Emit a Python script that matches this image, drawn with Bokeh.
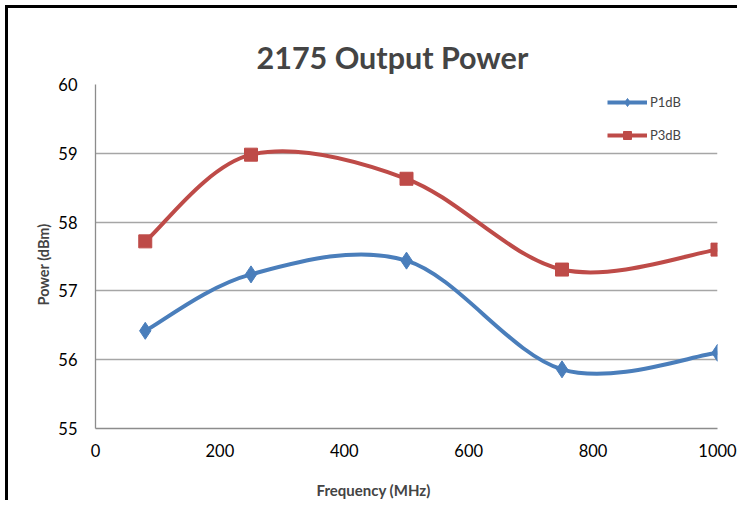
from bokeh.plotting import figure
from bokeh.models import Title, Legend, LegendItem, FixedTicker, Range1d
from bokeh.embed import file_html
from bokeh.resources import INLINE

freq = [80, 250, 500, 750, 1000]
p1db = [56.42, 57.24, 57.44, 55.86, 56.10]
p3db = [57.72, 58.98, 58.63, 57.31, 57.60]
x_ticks = [0, 200, 400, 600, 800, 1000]
y_ticks = [55, 56, 57, 58, 59, 60]

BLUE = "#4a7ebb"
RED = "#be4b48"
FONT = "Lato"


def smooth_segments(xs, ys):
    """Excel-style smoothed line: cubic Bezier control points from neighbours."""
    n = len(xs)
    seg = {k: [] for k in ("x0", "y0", "x1", "y1", "cx0", "cy0", "cx1", "cy1")}
    for i in range(n - 1):
        ip = max(i - 1, 0)
        i2 = min(i + 2, n - 1)
        seg["x0"].append(xs[i]); seg["y0"].append(ys[i])
        seg["x1"].append(xs[i + 1]); seg["y1"].append(ys[i + 1])
        seg["cx0"].append(xs[i] + (xs[i + 1] - xs[ip]) / 6.0)
        seg["cy0"].append(ys[i] + (ys[i + 1] - ys[ip]) / 6.0)
        seg["cx1"].append(xs[i + 1] - (xs[i2] - xs[i]) / 6.0)
        seg["cy1"].append(ys[i + 1] - (ys[i2] - ys[i]) / 6.0)
    return seg


p = figure(width=732, height=495, output_backend="svg", toolbar_location=None,
           x_range=Range1d(0, 1000), y_range=Range1d(55, 60),
           min_border_left=87, min_border_right=23, min_border_top=76, min_border_bottom=75)
p.styles = {"border-left": "3px solid black", "border-top": "3px solid black",
            "margin-left": "5px", "margin-top": "5px"}

p.title.text = "2175 Output Power"
p.title.text_font = FONT
p.title.text_font_size = "30.5px"
p.title.text_font_style = "bold"
p.title.align = "left"
p.title.offset = 161
p.title.standoff = 19

p.outline_line_color = None
p.background_fill_color = "white"
p.border_fill_color = "white"
p.xgrid.grid_line_color = None
p.ygrid.grid_line_color = "#a6a6a6"
p.ygrid.grid_line_width = 1.3

p.xaxis.ticker = FixedTicker(ticks=x_ticks)
p.yaxis.ticker = FixedTicker(ticks=y_ticks)
for ax in (p.xaxis[0], p.yaxis[0]):
    ax.major_tick_line_color = None
    ax.minor_tick_line_color = None
    ax.axis_line_color = "#8c8c8c"
    ax.axis_line_width = 1.3
    ax.major_label_text_font = FONT
    ax.major_label_text_font_size = "16.5px"
    ax.major_label_text_color = "black"
p.xaxis.major_label_standoff = 9
p.yaxis.major_label_standoff = 12
# blank spacer between the x tick labels and the (offset) x-axis title below
p.xaxis.axis_label = " "
p.xaxis.axis_label_text_font_size = "10px"
p.xaxis.axis_label_standoff = 0

ylab = Title(text="Power (dBm)", align="left", offset=123,
             text_font=FONT, text_font_size="14.5px", text_font_style="bold",
             standoff=8)
p.add_layout(ylab, "left")

xlab = Title(text="Frequency (MHz)", align="left", offset=221, vertical_align="bottom",
             text_font=FONT, text_font_size="15px", text_font_style="bold",
             standoff=10)
p.add_layout(xlab, "below")

s1 = smooth_segments(freq, p1db)
s3 = smooth_segments(freq, p3db)

b3 = p.bezier(source=s3, x0="x0", y0="y0", x1="x1", y1="y1", cx0="cx0", cy0="cy0",
              cx1="cx1", cy1="cy1", line_color=RED, line_width=4)
m3 = p.scatter(freq, p3db, marker="square", size=13, fill_color=RED, line_color=RED)
b1 = p.bezier(source=s1, x0="x0", y0="y0", x1="x1", y1="y1", cx0="cx0", cy0="cy0",
              cx1="cx1", cy1="cy1", line_color=BLUE, line_width=4)
m1 = p.scatter(freq, p1db, marker="diamond", size=17, fill_color=BLUE, line_color=BLUE)

legend = Legend(items=[LegendItem(label="P1dB", renderers=[b1, m1]),
                       LegendItem(label="P3dB", renderers=[b3, m3])],
                location=(512, 283), orientation="vertical",
                glyph_width=40, glyph_height=20, spacing=13, padding=0, margin=0,
                label_standoff=3, label_text_font=FONT, label_text_font_size="13px",
                border_line_color=None, background_fill_alpha=0)
p.add_layout(legend, "center")

open("out.html", "w").write(file_html(p, INLINE))
